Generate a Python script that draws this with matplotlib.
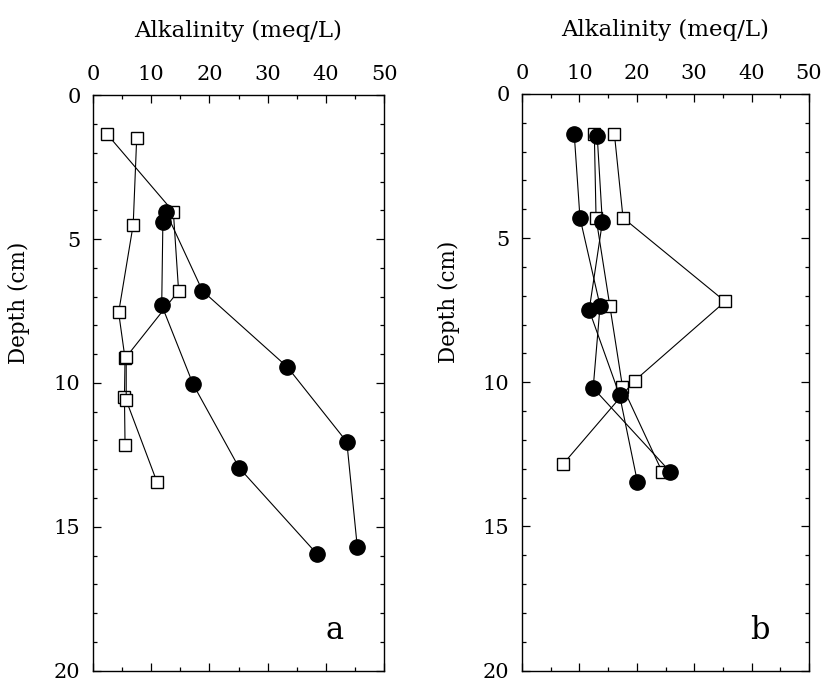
"""Alkalinity depth profiles, panels a and b."""

import matplotlib
matplotlib.use("Agg")
import matplotlib.pyplot as plt
from matplotlib.ticker import MultipleLocator

# panel a: open squares and filled circles (alkalinity, depth)
a_sq1_alk = [7.5, 6.9, 4.4, 5.5, 5.4, 5.5]
a_sq1_depth = [1.5, 4.5, 7.55, 9.15, 10.5, 12.15]
a_sq2_alk = [2.4, 13.8, 14.7, 5.7, 5.7, 11.0]
a_sq2_depth = [1.35, 4.05, 6.8, 9.1, 10.6, 13.45]
a_ci1_alk = [12.5, 18.8, 33.4, 43.6, 45.4]
a_ci1_depth = [4.05, 6.8, 9.45, 12.05, 15.7]
a_ci2_alk = [12.0, 11.8, 17.2, 25.1, 38.5]
a_ci2_depth = [4.4, 7.3, 10.05, 12.95, 15.95]

# panel b
b_sq1_alk = [12.6, 12.9, 15.3, 17.5, 24.4]
b_sq1_depth = [1.4, 4.3, 7.35, 10.15, 13.1]
b_sq2_alk = [16.1, 17.6, 35.4, 19.6, 7.1]
b_sq2_depth = [1.4, 4.3, 7.2, 9.95, 12.85]
b_ci1_alk = [9.1, 10.1, 13.6, 12.4, 25.8]
b_ci1_depth = [1.4, 4.3, 7.35, 10.2, 13.1]
b_ci2_alk = [13.1, 14.0, 11.7, 17.0, 20.1]
b_ci2_depth = [1.45, 4.45, 7.5, 10.45, 13.45]

x_ticks = [0, 10, 20, 30, 40, 50]
y_ticks = [0, 5, 10, 15, 20]

FONT = "DejaVu Serif"
plt.rcParams['font.family'] = FONT


def plot_squares(ax, alk, depth):
    ax.plot(alk, depth, color='black', lw=0.8, marker='s', ms=8.6,
            mfc='white', mec='black', mew=1.0, zorder=2)


def plot_circles(ax, alk, depth):
    ax.plot(alk, depth, color='black', lw=0.8, marker='o', ms=11,
            mfc='black', mec='black', zorder=3)


def style_axis(ax, letter):
    """Depth axis downwards, alkalinity on top."""
    ax.set_xlim(0, 50)
    ax.set_ylim(20, 0)
    ax.xaxis.set_major_locator(MultipleLocator(10))
    ax.xaxis.set_minor_locator(MultipleLocator(5))
    ax.yaxis.set_major_locator(MultipleLocator(5))
    ax.yaxis.set_minor_locator(MultipleLocator(1))
    ax.set_xticks(x_ticks)
    ax.set_yticks(y_ticks)
    ax.tick_params(which='both', direction='in', top=True, right=True,
                   labeltop=True, labelbottom=False, labelsize=15,
                   width=0.9)
    ax.tick_params(which='major', length=6)
    ax.tick_params(which='minor', length=3)
    ax.tick_params(axis='x', pad=8)
    ax.tick_params(axis='y', pad=9)
    for s in ax.spines.values():
        s.set_linewidth(1.0)
    ax.xaxis.set_label_position('top')
    ax.set_xlabel('Alkalinity (meq/L)', fontsize=16.5, labelpad=20)
    ax.set_ylabel('Depth (cm)', fontsize=15.5)
    ax.yaxis.set_label_coords(-0.215, 0.64)
    ax.text(0.83, 0.07, letter, transform=ax.transAxes, fontsize=22,
            ha='center', va='center')


fig = plt.figure(figsize=(8.24, 6.85), dpi=100)
ax1 = fig.add_axes([0.1129, 0.021, 0.3532, 0.840])
ax2 = fig.add_axes([0.6335, 0.021, 0.3483, 0.842])

plot_squares(ax1, a_sq1_alk, a_sq1_depth)
plot_squares(ax1, a_sq2_alk, a_sq2_depth)
plot_circles(ax1, a_ci1_alk, a_ci1_depth)
plot_circles(ax1, a_ci2_alk, a_ci2_depth)
style_axis(ax1, 'a')

plot_squares(ax2, b_sq1_alk, b_sq1_depth)
plot_squares(ax2, b_sq2_alk, b_sq2_depth)
plot_circles(ax2, b_ci1_alk, b_ci1_depth)
plot_circles(ax2, b_ci2_alk, b_ci2_depth)
style_axis(ax2, 'b')

fig.savefig('out.png', dpi=100)
